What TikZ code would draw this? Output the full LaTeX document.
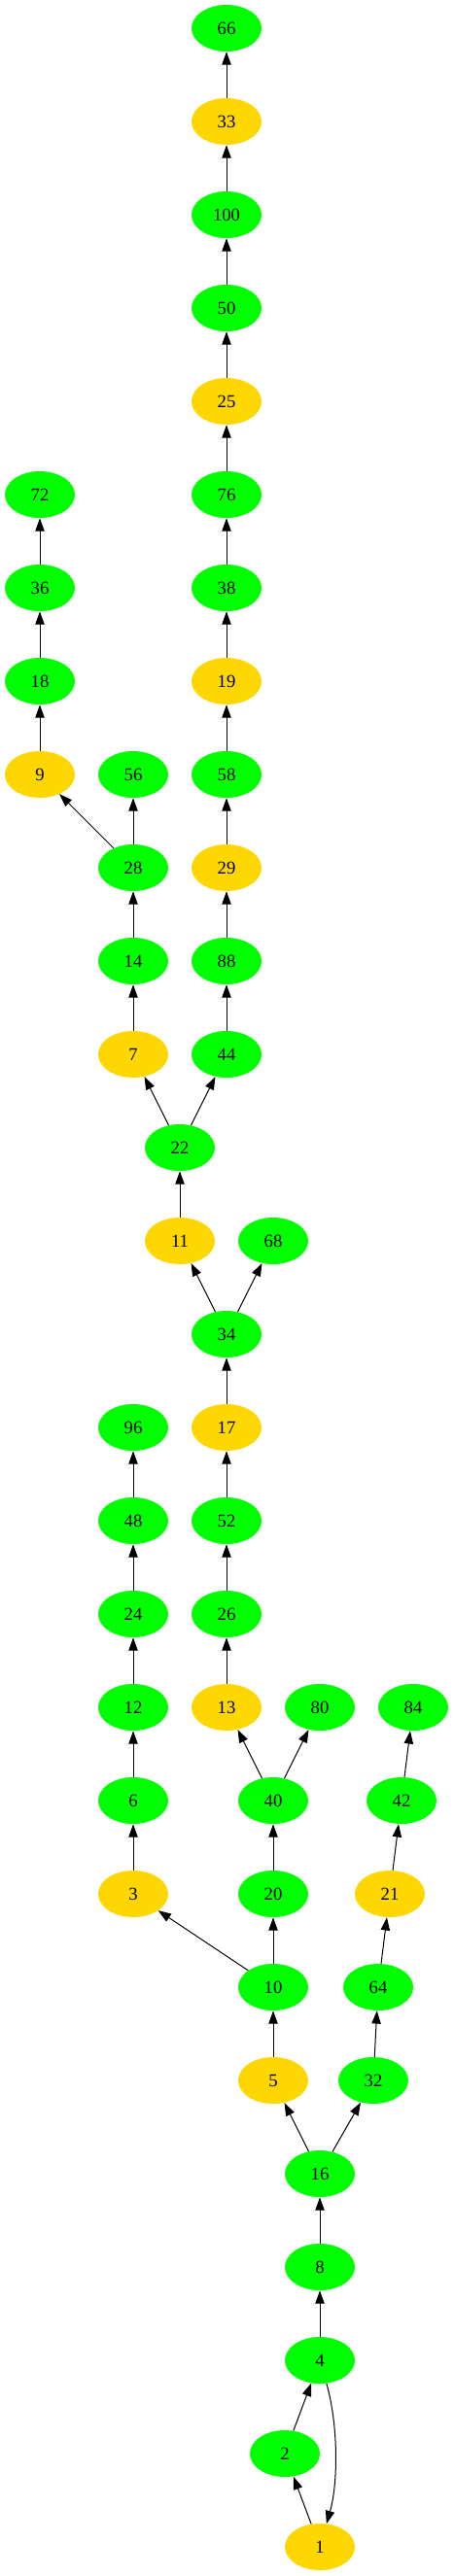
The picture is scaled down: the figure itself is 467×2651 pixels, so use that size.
\documentclass[tikz,border=0pt]{standalone}
\usepackage{fontspec}
\setmainfont{Liberation Serif}
\usetikzlibrary{arrows.meta,shapes.geometric}
\definecolor{evengreen}{HTML}{00FF00}
\definecolor{oddgold}{HTML}{FFD700}
\tikzset{
    even/.style={ellipse,fill=evengreen,minimum width=54pt,minimum height=36pt,inner sep=0pt,font=\fontsize{14}{16}\selectfont},
    odd/.style={even,fill=oddgold},
    edge/.style={-{Triangle[length=10pt,width=7pt]},line width=0.75pt}
}
\begin{document}
\begin{tikzpicture}[x=0.75pt,y=-0.75pt]
    \useasboundingbox (0,0) rectangle (467,2651);
    % main column
    \node[even] (n66) at (233,29) {66};
    \node[odd] (n33) at (233,125) {33};
    \node[even] (n100) at (233,221) {100};
    \node[even] (n50) at (233,317) {50};
    \node[odd] (n25) at (233,413) {25};
    \node[even] (n76) at (233,509) {76};
    \node[even] (n38) at (233,605) {38};
    \node[odd] (n19) at (233,701) {19};
    \node[even] (n58) at (233,797) {58};
    \node[odd] (n29) at (233,893) {29};
    \node[even] (n88) at (233,989) {88};
    \node[even] (n44) at (233,1085) {44};
    % left branch of 22
    \node[even] (n72) at (41,509) {72};
    \node[even] (n36) at (41,605) {36};
    \node[even] (n18) at (41,701) {18};
    \node[odd] (n9) at (41,797) {9};
    \node[even] (n56) at (137,797) {56};
    \node[even] (n28) at (137,893) {28};
    \node[even] (n14) at (137,989) {14};
    \node[odd] (n7) at (137,1085) {7};
    \node[even] (n22) at (185,1181) {22};
    \node[odd] (n11) at (185,1277) {11};
    \node[even] (n68) at (281,1277) {68};
    \node[even] (n34) at (233,1373) {34};
    \node[odd] (n17) at (233,1469) {17};
    \node[even] (n52) at (233,1565) {52};
    \node[even] (n26) at (233,1661) {26};
    \node[odd] (n13) at (233,1757) {13};
    % branch of 3
    \node[even] (n96) at (137,1469) {96};
    \node[even] (n48) at (137,1565) {48};
    \node[even] (n24) at (137,1661) {24};
    \node[even] (n12) at (137,1757) {12};
    \node[even] (n6) at (137,1853) {6};
    \node[odd] (n3) at (137,1949) {3};
    % branch of 10
    \node[even] (n80) at (329,1757) {80};
    \node[even] (n40) at (281,1853) {40};
    \node[even] (n20) at (281,1949) {20};
    \node[even] (n10) at (281,2045) {10};
    \node[odd] (n5) at (281,2141) {5};
    % branch of 32
    \node[even] (n84) at (425,1757) {84};
    \node[even] (n42) at (413,1853) {42};
    \node[odd] (n21) at (401,1949) {21};
    \node[even] (n64) at (389,2045) {64};
    \node[even] (n32) at (384,2141) {32};
    % bottom
    \node[even] (n16) at (329,2237) {16};
    \node[even] (n8) at (329,2333) {8};
    \node[even] (n4) at (329,2429) {4};
    \node[even] (n2) at (293,2525) {2};
    \node[odd] (n1) at (329,2621) {1};
    % edges
    \draw[edge] (n1) -- (n2);
    \draw[edge] (n2) -- (n4);
    \draw[edge] (n4) .. controls (348,2495) and (348,2555) .. (n1);
    \draw[edge] (n4) -- (n8);
    \draw[edge] (n8) -- (n16);
    \draw[edge] (n16) -- (n5);
    \draw[edge] (n16) -- (n32);
    \draw[edge] (n5) -- (n10);
    \draw[edge] (n32) -- (n64);
    \draw[edge] (n10) -- (n3);
    \draw[edge] (n10) -- (n20);
    \draw[edge] (n64) -- (n21);
    \draw[edge] (n3) -- (n6);
    \draw[edge] (n20) -- (n40);
    \draw[edge] (n21) -- (n42);
    \draw[edge] (n6) -- (n12);
    \draw[edge] (n40) -- (n13);
    \draw[edge] (n40) -- (n80);
    \draw[edge] (n42) -- (n84);
    \draw[edge] (n12) -- (n24);
    \draw[edge] (n13) -- (n26);
    \draw[edge] (n24) -- (n48);
    \draw[edge] (n26) -- (n52);
    \draw[edge] (n48) -- (n96);
    \draw[edge] (n52) -- (n17);
    \draw[edge] (n17) -- (n34);
    \draw[edge] (n34) -- (n11);
    \draw[edge] (n34) -- (n68);
    \draw[edge] (n11) -- (n22);
    \draw[edge] (n22) -- (n7);
    \draw[edge] (n22) -- (n44);
    \draw[edge] (n7) -- (n14);
    \draw[edge] (n44) -- (n88);
    \draw[edge] (n14) -- (n28);
    \draw[edge] (n88) -- (n29);
    \draw[edge] (n28) -- (n9);
    \draw[edge] (n28) -- (n56);
    \draw[edge] (n29) -- (n58);
    \draw[edge] (n9) -- (n18);
    \draw[edge] (n58) -- (n19);
    \draw[edge] (n18) -- (n36);
    \draw[edge] (n19) -- (n38);
    \draw[edge] (n36) -- (n72);
    \draw[edge] (n38) -- (n76);
    \draw[edge] (n76) -- (n25);
    \draw[edge] (n25) -- (n50);
    \draw[edge] (n50) -- (n100);
    \draw[edge] (n100) -- (n33);
    \draw[edge] (n33) -- (n66);
\end{tikzpicture}
\end{document}
